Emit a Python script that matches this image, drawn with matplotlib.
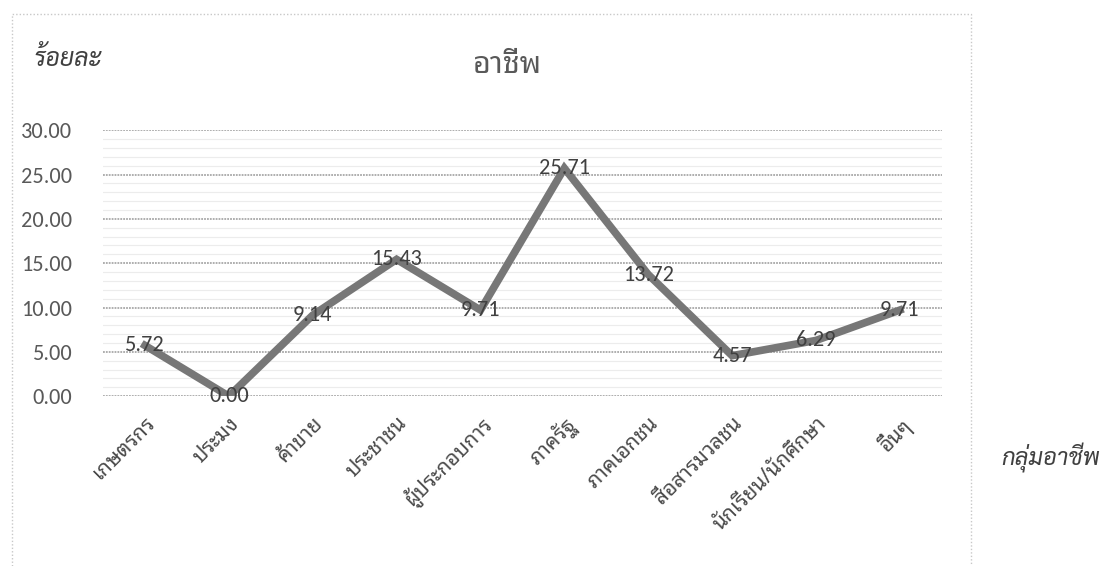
import matplotlib
matplotlib.use("Agg")
import matplotlib.pyplot as plt
import numpy as np
from matplotlib.patches import Rectangle

# data
occupations = ["เกษตรกร", "ประมง", "ค้าขาย", "ประชาชน", "ผู้ประกอบการ",
               "ภาครัฐ", "ภาคเอกชน", "สื่อสารมวลชน", "นักเรียน/นักศึกษา", "อื่นๆ"]
percent = [5.72, 0.00, 9.14, 15.43, 9.71, 25.71, 13.72, 4.57, 6.29, 9.71]
y_ticks = [0, 5, 10, 15, 20, 25, 30]

thai = ["Noto Sans Thai Looped", "Sarabun", "Noto Sans Thai", "Bai Jamjuree", "DejaVu Sans"]
thai_it = ["Sarabun", "Bai Jamjuree", "DejaVu Sans"]
nums = ["Carlito", "Open Sans", "DejaVu Sans"]
text_col = "#595959"

fig = plt.figure(figsize=(11.08, 5.66), dpi=100)
ax = fig.add_axes([0.093, 0.300, 0.757, 0.470])

x = np.arange(len(occupations))
ax.plot(x, percent, color="#777777", lw=5.5, solid_joinstyle="miter", zorder=3)

for xi, v in zip(x, percent):
    ax.text(xi, v, "%.2f" % v, ha="center", va="center", fontsize=16,
            color="#404040", family=nums, zorder=4)

ax.set_xlim(-0.5, len(occupations) - 0.5)
ax.set_ylim(0, 30)
ax.set_yticks(y_ticks)
ax.set_yticklabels(["%.2f" % t for t in y_ticks], family=nums, fontsize=16, color=text_col)
ax.set_yticks(np.arange(0, 31, 1), minor=True)
ax.set_xticks(x)
ax.set_xticklabels(occupations, rotation=45, ha="right", rotation_mode="anchor",
                   family=thai, fontsize=15, color="#4a4a4a")
ax.tick_params(axis="both", length=0)
ax.tick_params(axis="y", which="minor", length=0)
ax.tick_params(axis="y", pad=22)
ax.tick_params(axis="x", pad=12)

ax.grid(axis="y", which="major", color="#a8a8a8", lw=1.3, ls=(0, (1, 0.6)))
ax.grid(axis="y", which="minor", color="#ececec", lw=0.8)
for s in ax.spines.values():
    s.set_visible(False)

fig.text(0.458, 0.885, "อาชีพ", ha="center", va="center", fontsize=22,
         family=thai, fontweight="light", color=text_col)
fig.text(0.030, 0.894, "ร้อยละ", ha="left", va="center", fontsize=18,
         family=thai_it, style="italic", color="#404040")
fig.text(0.948, 0.190, "กลุ่มอาชีพ", ha="center", va="center", fontsize=17,
         family=thai_it, style="italic", color="#404040")

# chart area border
fig.patches.append(Rectangle((0.011, -0.05), 0.865, 1.025, transform=fig.transFigure,
                             fill=False, ec="#c8c8c8", lw=1, ls=(0, (1, 1.5))))

fig.savefig("out.png", dpi=100, facecolor="white")
